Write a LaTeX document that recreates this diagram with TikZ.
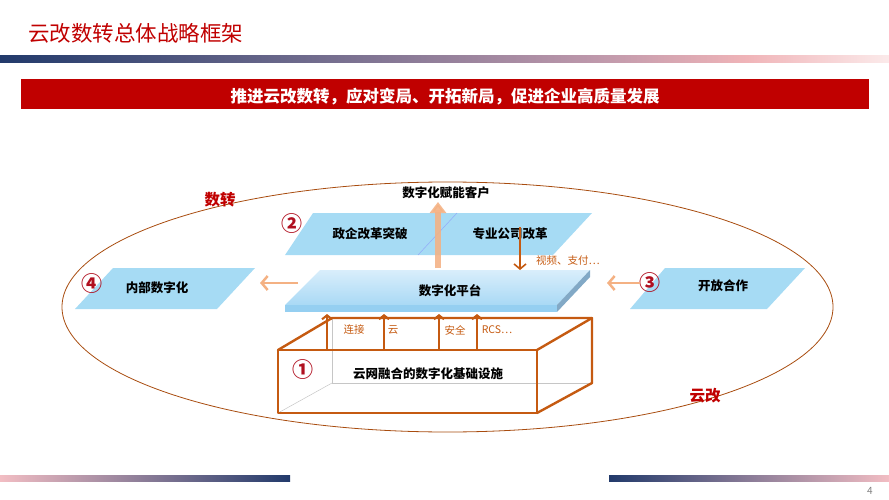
\documentclass[tikz,border=0pt]{standalone}
\usepackage{fontspec}
\setmainfont{Noto Sans CJK SC}
\usetikzlibrary{arrows.meta}
\definecolor{cred}{HTML}{C00000}
\definecolor{cnum}{HTML}{B01020}
\definecolor{cbrown}{HTML}{C55A11}
\definecolor{cblue}{HTML}{A6DBF4}
\definecolor{corange}{HTML}{F4B183}
\definecolor{navy}{HTML}{223A6B}
\definecolor{cpink}{HTML}{F2BDC3}
\definecolor{ctwo}{HTML}{6E6A8C}
\definecolor{cthree}{HTML}{BE98AB}
\definecolor{cfour}{HTML}{F0B4B8}
\definecolor{cfive}{HTML}{FBEAEA}
\definecolor{slabA}{HTML}{D9EEFB}
\definecolor{slabB}{HTML}{A9D9F5}
\definecolor{slabF}{HTML}{95CFF1}
\definecolor{slabS}{HTML}{82A9C6}
\pgfdeclarehorizontalshading{topbar}{100bp}{color(0bp)=(navy); color(25bp)=(navy); color(42bp)=(ctwo); color(58.5bp)=(cthree); color(67bp)=(cfour); color(75bp)=(cfive); color(100bp)=(cfive)}
\tikzset{
  para/.style={fill=cblue, draw=none},
  lbl/.style={font=\bfseries\fontsize{12.5}{14}\selectfont, text=black, inner sep=1pt},
  small/.style={font=\fontsize{10.5}{12}\selectfont, text=cbrown, inner sep=1pt},
  num/.style={font=\bfseries\fontsize{21}{22}\selectfont, text=cnum, inner sep=0pt},
  zone/.style={font=\bfseries\fontsize{15.5}{17}\selectfont, text=cred, inner sep=1pt},
  boxline/.style={draw=cbrown, line width=2.4pt, line join=round, line cap=round},
  hiddenline/.style={draw=gray!45, line width=0.5pt},
  uparrow/.style={draw=cbrown, line width=2pt, -{Straight Barb[length=4pt,width=10pt]}},
  orangearrow/.style={draw=corange, line width=2.5pt, -{Straight Barb[length=6pt,width=14pt]}},
}
\begin{document}
\begin{tikzpicture}[x={(1pt,0)}, y={(0,-1pt)}]
\useasboundingbox (0,0) rectangle (889,500);
% header
\node[anchor=west, font=\fontsize{21.5}{24}\selectfont, text=cred, inner sep=0pt] (title) at (28,33) {云改数转总体战略框架};
\shade[shading=topbar] (0,56) rectangle (889,63);
\fill[cred] (21,79) rectangle (869,109);
\node[font=\bfseries\fontsize{16.5}{18}\selectfont, text=white, inner sep=0pt] (banner) at (445,97) {推进云改数转，应对变局、开拓新局，促进企业高质量发展};
% ellipse
\draw[cbrown!85!black, line width=0.8pt] (447.5,307) ellipse [x radius=385.5, y radius=125];
\node[zone] (shuzhuan) at (220,200) {数转};
\node[zone] (yungai) at (705,396) {云改};
% customer
\node[lbl] (cust) at (446,193) {数字化赋能客户};
% parallelogram 2
\fill[para] (285,255) -- (553,255) -- (592,213) -- (313,213) -- cycle;
\draw[cblue!60!blue!70, line width=0.5pt] (418,255) -- (457,213);
\node[lbl] (zq) at (370,234) {政企改革突破};
\node[lbl] (zy) at (510,234) {专业公司改革};
\node[num] (n2) at (292,224) {②};
% big up arrow
\coordinate (slabtop) at (438,268);
\coordinate (custbot) at (438,202);
\draw[draw=corange, opacity=0.88, line width=6pt, -{Triangle[length=11pt,width=16pt]}] (slabtop) -- (custbot);
% parallelogram 4
\fill[para] (75,309) -- (217,309) -- (255,268) -- (113,268) -- cycle;
\node[lbl] (nb) at (157,288) {内部数字化};
\node[num] (n4) at (92,284) {④};
% parallelogram 3
\fill[para] (630,309) -- (767,309) -- (805,268) -- (665,268) -- cycle;
\node[lbl] (kf) at (723,286) {开放合作};
\node[num] (n3) at (650,283) {③};
% slab
\shade[top color=slabA, bottom color=slabB] (285,305) -- (557,305) -- (590,270) -- (320,270) -- cycle;
\fill[slabF] (285,305) -- (557,305) -- (557,312) -- (285,312) -- cycle;
\fill[slabS] (557,305) -- (590,270) -- (590,277) -- (557,312) -- cycle;
\node[lbl] (plat) at (450,291) {数字化平台};
% arrows around slab
\coordinate (slableft) at (298,283);
\coordinate (p4right) at (260,283);
\draw[orangearrow] (slableft) -- (p4right);
\coordinate (n3left) at (640,283);
\coordinate (slabright) at (607,283);
\draw[orangearrow] (n3left) -- (slabright);
\coordinate (zytop) at (520,227);
\coordinate (zybot) at (520,270);
\draw[draw=cbrown, line width=1.6pt, -{Straight Barb[length=5pt,width=12pt]}] (zytop) -- (zybot);
\node[small] (vp) at (568,261) {视频、支付…};
% box hidden edges
\draw[hiddenline] (332,318) -- (332,383) -- (592,383);
\draw[hiddenline] (278,413) -- (332,383);
% box visible edges
\draw[boxline] (278,350) rectangle (537,413);
\draw[boxline] (278,350) -- (332,318) -- (592,318) -- (592,383) -- (537,413);
\draw[boxline] (537,350) -- (592,318);
% up arrows
\foreach \x/\n in {327/a,384/b,439/c,477/d} {
  \coordinate (ub\n) at (\x,350);
  \coordinate (ut\n) at (\x,314);
  \draw[uparrow] (ub\n) -- (ut\n);
}
\node[small] (lj) at (354,330) {连接};
\node[small] (yun) at (393,330) {云};
\node[small] (aq) at (455,330) {安全};
\node[small] (rcs) at (497,330) {RCS…};
\node[num] (n1) at (303,370) {①};
\node[lbl] (infra) at (428,374) {云网融合的数字化基础设施};
% footer
\shade[left color=cpink, right color=navy] (0,475) rectangle (290,481);
\shade[left color=navy, right color=cpink] (609,475) rectangle (889,481);
\node[font=\fontsize{10}{11}\selectfont, text=gray, inner sep=0pt] (pg) at (870,491) {4};
\end{tikzpicture}
\end{document}
